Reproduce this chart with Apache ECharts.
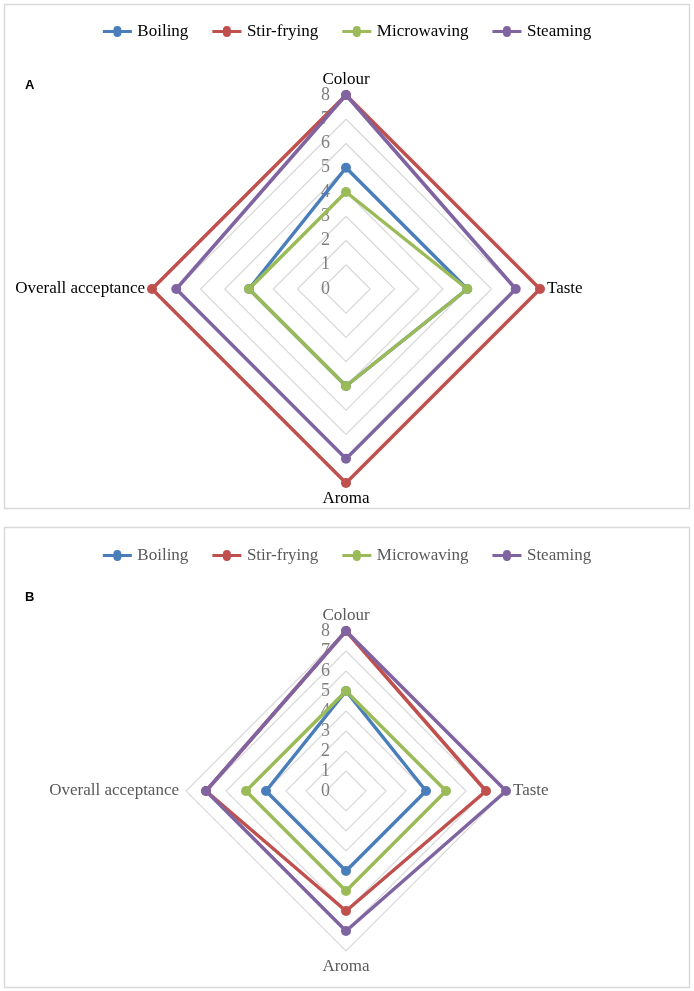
<!DOCTYPE html>
<html>
<head>
<meta charset="utf-8">
<script src="https://cdn.jsdelivr.net/npm/echarts@6/dist/echarts.min.js"></script>
<style>
  html, body { margin: 0; padding: 0; background: #fff; }
  #chart { width: 694px; height: 991px; }
</style>
</head>
<body>
<div id="chart"></div>
<script>
// indicator order follows ECharts radar (counter-clockwise from top)
const categories = ['Colour', 'Overall acceptance', 'Aroma', 'Taste']
const seriesNames = ['Boiling', 'Stir-frying', 'Microwaving', 'Steaming']
const tickLabels = ['0', '1', '2', '3', '4', '5', '6', '7', '8']

// panel A
const boilingA = [5, 4, 4, 5]
const stirFryingA = [8, 8, 8, 8]
const microwavingA = [4, 4, 4, 5]
const steamingA = [8, 7, 7, 7]

// panel B
const boilingB = [5, 4, 4, 4]
const stirFryingB = [8, 7, 6, 7]
const microwavingB = [5, 5, 5, 5]
const steamingB = [8, 7, 7, 8]

const colors = ['#4a7ebb', '#c0504d', '#9bbb59', '#8064a2']
const font = 'Liberation Serif'
const legendIcon = 'path://M0,4L12,4A4.5,4.5 0 0 1 21,4L33,4L33,7.5L21,7.5A4.5,4.5 0 0 1 12,7.5L0,7.5Z'

const chart = echarts.init(document.getElementById('chart'))

function makeRadar(cx, cy, r, textColor) {
  return {
    center: [cx, cy],
    radius: r,
    startAngle: 90,
    shape: 'polygon',
    splitNumber: 8,
    indicator: categories.map(name => ({ name: name, min: 0, max: 8 })),
    nameGap: 7,
    axisName: { color: textColor, fontFamily: font, fontSize: 17 },
    splitArea: { show: false },
    splitLine: { lineStyle: { color: '#d9d9d9', width: 1.2 } },
    axisLine: { show: false },
    axisTick: { show: false },
    axisLabel: { show: false }
  }
}

function makeSeries(radarIndex, dataArrays) {
  return dataArrays.map((values, i) => ({
    type: 'radar',
    name: seriesNames[i],
    radarIndex: radarIndex,
    symbol: 'circle',
    symbolSize: 10,
    color: colors[i],
    lineStyle: { width: 3.5, color: colors[i] },
    itemStyle: { color: colors[i] },
    data: [{ value: values, name: seriesNames[i] }]
  }))
}

function makeLegend(top, textColor) {
  return {
    top: top,
    left: 'center',
    icon: legendIcon,
    itemWidth: 36,
    itemHeight: 11,
    itemGap: 24,
    data: seriesNames,
    textStyle: { color: textColor, fontFamily: font, fontSize: 17, padding: [0, 0, 0, -3] }
  }
}

// hidden cartesian axes only to carry the 0..8 tick labels beside the Colour spoke
function makeTickAxis(gridIndex) {
  return {
    type: 'value',
    gridIndex: gridIndex,
    min: 0,
    max: 8,
    interval: 1,
    axisLine: { show: false },
    axisTick: { show: false },
    splitLine: { show: false },
    axisLabel: {
      margin: 16,
      color: '#7f7f7f',
      fontFamily: font,
      fontSize: 18,
      formatter: v => tickLabels[v]
    }
  }
}

const option = {
  animation: false,
  backgroundColor: '#fff',
  color: colors,
  graphic: [
    { type: 'rect', shape: { x: 4.5, y: 4.5, width: 685, height: 504 }, style: { fill: 'none', stroke: '#d9d9d9', lineWidth: 1.5 } },
    { type: 'rect', shape: { x: 4.5, y: 527.5, width: 685, height: 460 }, style: { fill: 'none', stroke: '#d9d9d9', lineWidth: 1.5 } },
    { type: 'text', left: 25, top: 79, style: { text: 'A', font: 'bold 13px "Liberation Sans"', fill: '#000' } },
    { type: 'text', left: 25, top: 591, style: { text: 'B', font: 'bold 13px "Liberation Sans"', fill: '#000' } }
  ],
  legend: [makeLegend(18, '#000'), makeLegend(542, '#595959')],
  radar: [makeRadar(346, 289, 194, '#000'), makeRadar(346, 791, 160, '#595959')],
  grid: [
    { left: 346, top: 95, width: 1, height: 194 },
    { left: 346, top: 631, width: 1, height: 160 }
  ],
  xAxis: [
    { type: 'value', gridIndex: 0, show: false },
    { type: 'value', gridIndex: 1, show: false }
  ],
  yAxis: [makeTickAxis(0), makeTickAxis(1)],
  series: [
    ...makeSeries(0, [boilingA, stirFryingA, microwavingA, steamingA]),
    ...makeSeries(1, [boilingB, stirFryingB, microwavingB, steamingB])
  ]
}

chart.setOption(option)
</script>
</body>
</html>
